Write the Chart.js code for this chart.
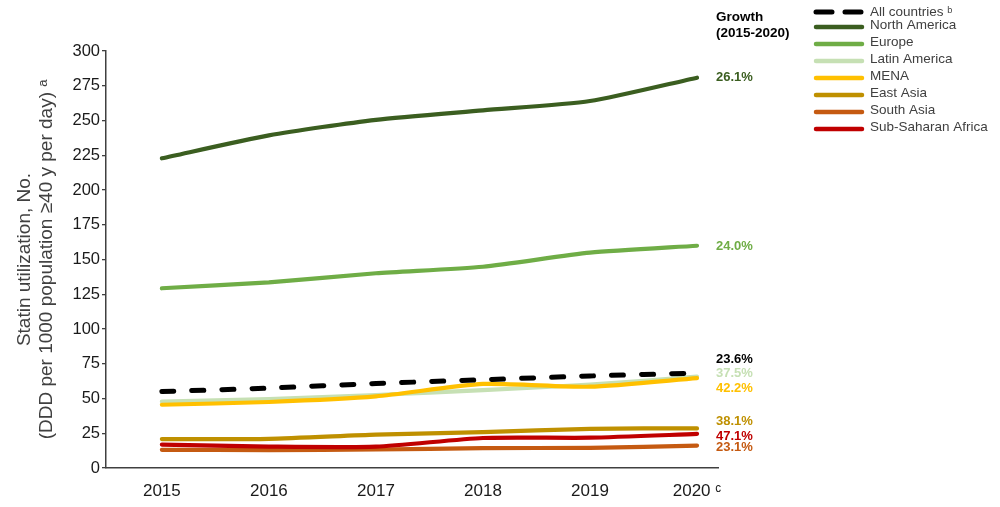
<!DOCTYPE html>
<html>
<head>
<meta charset="utf-8">
<script src="https://cdn.jsdelivr.net/npm/chart.js@4/dist/chart.umd.min.js"></script>
<style>
  html, body { margin: 0; padding: 0; background: #fff; }
  #wrap { width: 1000px; height: 507px; position: relative; }
</style>
</head>
<body>
<div id="wrap"><canvas id="c" width="1000" height="507"></canvas></div>
<script>
// ---- data ----
const years = [2015, 2016, 2017, 2018, 2019, 2020];
const seriesNames = ['All countries', 'North America', 'Europe', 'Latin America', 'MENA', 'East Asia', 'South Asia', 'Sub-Saharan Africa'];
const allCountries = [55.0, 57.5, 60.8, 63.5, 66.2, 68.3];
const northAmerica = [222.8, 239.3, 250.5, 257.3, 264.0, 280.8];
const europe = [129.3, 133.6, 140.1, 144.8, 154.9, 159.9];
const latinAmerica = [47.8, 49.5, 52.5, 56.0, 60.0, 65.7];
const mena = [45.5, 47.5, 51.5, 60.5, 58.5, 64.7];
const eastAsia = [20.8, 21.0, 24.0, 25.8, 28.2, 28.5];
const southAsia = [13.1, 12.9, 13.3, 14.3, 14.5, 16.1];
const subSaharanAfrica = [16.8, 15.4, 15.4, 21.6, 21.8, 24.5];
const growthLabels = ['23.6%', '26.1%', '24.0%', '37.5%', '42.2%', '38.1%', '23.1%', '47.1%'];
const yTicks = [0, 25, 50, 75, 100, 125, 150, 175, 200, 225, 250, 275, 300];

// ---- styles (kept apart from data) ----
const colors = ['#000000', '#3b5e20', '#6fad46', '#c6e0b4', '#ffc000', '#bf9000', '#c55a11', '#c00000'];
const drawOrder = [0, 7, 6, 5, 4, 3, 2, 1];
const labelNudge = [-14, 0, 1, -3, 10, -7, 2, 2];
const FONT = '"Liberation Sans", Arial, "DejaVu Sans", sans-serif';
const seriesValues = [allCountries, northAmerica, europe, latinAmerica, mena, eastAsia, southAsia, subSaharanAfrica];

const datasets = seriesNames.map((name, i) => ({
  label: name,
  data: years.map((y, j) => ({ x: y, y: seriesValues[i][j] })),
  borderColor: colors[i],
  backgroundColor: colors[i],
  borderWidth: i === 0 ? 5 : 4.2,
  borderDash: i === 0 ? [12, 18] : [],
  borderCapStyle: i === 0 ? 'round' : 'round',
  pointRadius: 0,
  tension: 0.22,
  fill: false,
  order: drawOrder[i],
  growth: growthLabels[i],
  nudge: labelNudge[i]
}));

const extrasPlugin = {
  id: 'extras',
  afterDraw(chart) {
    const ctx = chart.ctx;
    const xs = chart.scales.x, ys = chart.scales.y;
    ctx.save();
    // header
    ctx.fillStyle = '#000';
    ctx.font = 'bold 13.5px ' + FONT;
    ctx.textAlign = 'left';
    ctx.textBaseline = 'middle';
    ctx.fillText('Growth', 716, 17);
    ctx.fillText('(2015-2020)', 716, 33);
    // growth labels
    ctx.font = 'bold 13px ' + FONT;
    chart.data.datasets.forEach(ds => {
      const last = ds.data[ds.data.length - 1];
      const py = ys.getPixelForValue(last.y) + ds.nudge;
      const px = xs.getPixelForValue(last.x) + 19;
      ctx.fillStyle = ds.borderColor;
      ctx.fillText(ds.growth, px, py);
    });
    // legend
    chart.data.datasets.forEach((ds, i) => {
      const ly = i === 0 ? 12 : 27 + 17 * (i - 1);
      ctx.beginPath();
      ctx.strokeStyle = ds.borderColor;
      ctx.lineWidth = i === 0 ? 5 : 4.5;
      ctx.lineCap = 'round';
      ctx.setLineDash(i === 0 ? [16, 13] : []);
      ctx.moveTo(816, ly);
      ctx.lineTo(862, ly);
      ctx.stroke();
      ctx.setLineDash([]);
      ctx.fillStyle = '#404040';
      ctx.font = '13.5px ' + FONT;
      ctx.fillText(i === 0 ? ds.label + ' ᵇ' : ds.label, 870, i === 0 ? ly : ly - 2);
    });
    ctx.restore();
  }
};

new Chart(document.getElementById('c'), {
  type: 'line',
  data: { datasets },
  options: {
    responsive: false,
    animation: false,
    layout: { padding: { left: 0, top: 51, right: 282, bottom: 0 } },
    plugins: { legend: { display: false }, tooltip: { enabled: false } },
    scales: {
      x: {
        type: 'linear',
        min: 2014.478,
        max: 2020.196,
        afterBuildTicks: s => { s.ticks = years.map(v => ({ value: v })); },
        afterFit: s => { s.height = 39; },
        grid: { display: false, drawTicks: false },
        border: { display: true, color: '#404040', width: 1.5 },
        ticks: {
          padding: 13,
          color: '#1a1a1a',
          font: { family: FONT, size: 17 },
          callback: v => (v === 2020 ? '2020 ᶜ' : String(v)),
          maxRotation: 0, autoSkip: false
        }
      },
      y: {
        min: 0,
        max: 300,
        afterBuildTicks: s => { s.ticks = yTicks.map(v => ({ value: v })); },
        afterFit: s => { s.width = 106; },
        grid: { drawOnChartArea: false, drawTicks: true, tickLength: 4, color: '#404040', lineWidth: 1.3 },
        border: { display: true, color: '#404040', width: 1.5 },
        ticks: {
          padding: 2,
          color: '#1a1a1a',
          font: { family: FONT, size: 16.5 }
        },
        title: {
          display: true,
          text: ['Statin utilization, No.', '(DDD per 1000 population ≥40 y per day) ᵃ'],
          color: '#404040',
          font: { family: FONT, size: 19, lineHeight: 1.15 },
          padding: { top: 14, bottom: 0 }
        }
      }
    }
  },
  plugins: [extrasPlugin]
});
</script>
</body>
</html>
